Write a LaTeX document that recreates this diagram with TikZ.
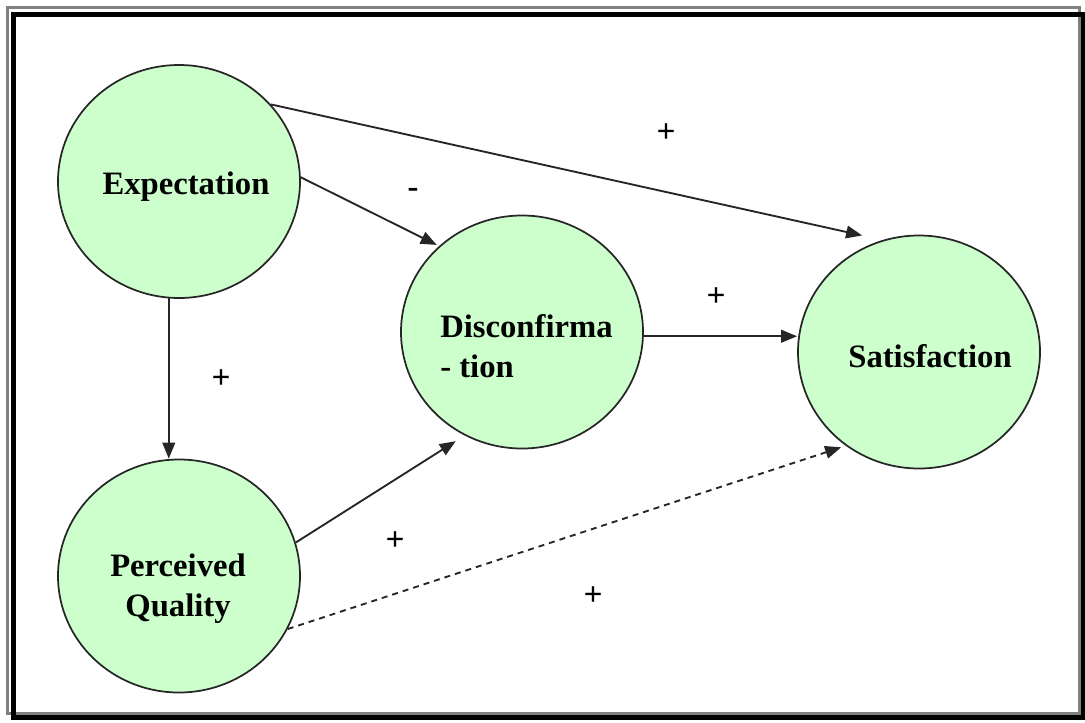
\documentclass[tikz,border=0pt]{standalone}
\usepackage{fontspec}
\setmainfont{Liberation Serif}
\usetikzlibrary{shapes.geometric,arrows.meta}
\definecolor{bubblefill}{RGB}{204,255,204}
\begin{document}
\begin{tikzpicture}[x=0.75pt,y=-0.75pt,
  bubble/.style={ellipse, draw=black!85, line width=1.3pt, fill=bubblefill,
    minimum width=181.5pt, minimum height=174.75pt, inner sep=0pt},
  lbl/.style={font=\fontsize{24.5}{30}\selectfont\bfseries, inner sep=0pt},
  sign/.style={font=\fontsize{25}{25}\selectfont\bfseries, inner sep=0pt},
  conn/.style={line width=1.4pt, draw=black!85, -{Triangle[length=12pt,width=9.5pt]}},
]
\useasboundingbox (0,0) rectangle (1085,722);
% frame
\draw[black!50, line width=2.25pt] (7,7) rectangle (1079,713);
\draw[black, line width=3.75pt] (13.5,14) rectangle (1083,717.5);
% bubbles
\node[bubble] (exp) at (179,181.5) {};
\node[bubble] (pq) at (179,576) {};
\node[bubble] (disc) at (522,332) {};
\node[bubble] (sat) at (919,352) {};
% texts
\node[lbl, anchor=base] (expt) at (186,194) {Expectation};
\node[lbl, align=center] (pqt) at (178,589) {Perceived\\Quality};
\node[lbl, align=left, anchor=west] (disct) at (440,346) {Disconfirma\\- tion};
\node[lbl, anchor=base] (satt) at (930,367) {Satisfaction};
% connectors
\draw[conn, shorten >=15.75pt] (exp.40) -- (sat.108);
\draw[conn, shorten >=1.9pt] (exp.2) -- (disc.134);
\draw[conn] (exp.265) -- (exp.265 |- pq.north);
\draw[conn] (disc.-2) -- (disc.-2 -| sat.west);
\draw[conn, shorten >=7.9pt] (pq.16.8) -- (disc.-119.3);
\draw[conn, dash pattern=on 4.5pt off 3.75pt, shorten >=3.6pt] (pq.-26.4) -- (sat.232.9);
% signs
\node[sign] (s1) at (666,133) {+};
\node[lbl] (s2) at (413,193) {-};
\node[sign] (s3) at (716,297) {+};
\node[sign] (s4) at (221,379) {+};
\node[sign] (s5) at (395,541) {+};
\node[sign] (s6) at (593,596) {+};
\end{tikzpicture}
\end{document}
